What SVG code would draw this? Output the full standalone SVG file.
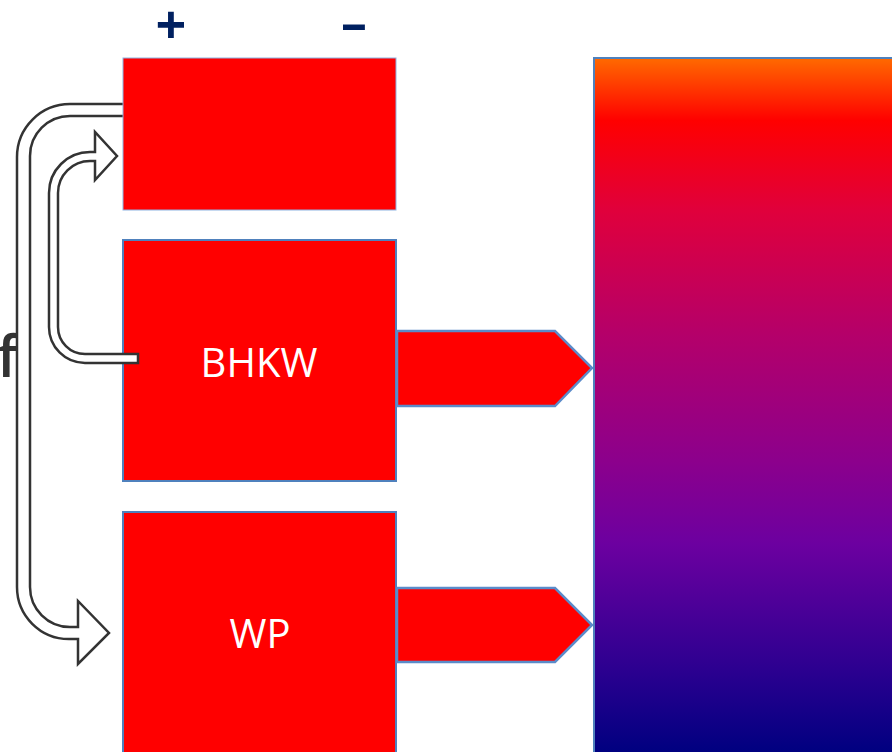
<svg xmlns="http://www.w3.org/2000/svg" width="892" height="752" viewBox="0 0 892 752">
<style>
.box{fill:#ff0000;stroke:#4f81bd;stroke-width:2}
.pent{fill:#ff0000;stroke:#5b8bc9;stroke-width:2.5;stroke-linejoin:miter}
.lbl{font-family:"Open Sans","Noto Sans",sans-serif;font-size:40px;fill:#ffffff;text-anchor:middle}
.sign{font-family:"Open Sans","Noto Sans",sans-serif;font-weight:bold;fill:#002060;text-anchor:middle}
.blk{fill:#ffffff;stroke:#333333;stroke-width:2.5;stroke-linejoin:miter}
</style>
<defs>
<linearGradient id="grad" gradientUnits="userSpaceOnUse" x1="0" y1="58" x2="0" y2="752">
<stop offset="0" stop-color="#ff6a00"/>
<stop offset="0.09" stop-color="#ff0000"/>
<stop offset="0.22" stop-color="#e0003c"/>
<stop offset="0.4" stop-color="#b4006a"/>
<stop offset="0.58" stop-color="#8c008c"/>
<stop offset="0.7" stop-color="#6c00a0"/>
<stop offset="0.88" stop-color="#2c0090"/>
<stop offset="1" stop-color="#000080"/>
</linearGradient>
</defs>
<rect width="892" height="752" fill="#ffffff"/>
<text x="-3" y="377" font-family="Open Sans, Noto Sans, sans-serif" font-size="57" font-weight="600" fill="#333333">f</text>
<text class="sign" x="171" y="44" font-size="54">+</text>
<text class="sign" transform="translate(354,39) scale(1.9,1)" x="0" y="0" font-size="44">-</text>
<g id="connectors">
<path id="arrow-outer" class="blk" d="M123,104 L70,104 A53,53 0 0 0 17,157 L17,587 A52,52 0 0 0 69,639 L78,639 L78,664 L109,633 L78,601 L78,627 L70,627 A40,40 0 0 1 30,587 L30,156 A40,40 0 0 1 70,116 L123,116"/>
</g>
<g id="node-top">
<rect x="123" y="58" width="273" height="152" fill="#ff0000" stroke="#8db3e2" stroke-width="1"/>
</g>
<g id="node-bhkw">
<rect class="box" x="123" y="240" width="273" height="241"/>
<text class="lbl" x="259" y="377">BHKW</text>
</g>
<g id="node-wp">
<rect class="box" x="123" y="512" width="273" height="250"/>
<text class="lbl" x="260" y="648">WP</text>
</g>
<g id="connectors2">
<path id="arrow-inner" class="blk" d="M138,354 L85,354 A27,27 0 0 1 58,327 L58,193 A32,32 0 0 1 90,161 L95,161 L95,180 L117,156 L95,132 L95,152 L90,152 A41,41 0 0 0 49,193 L49,327 A36,36 0 0 0 85,363 L138,363 Z"/>
<polygon id="flow-bhkw" class="pent" points="397,331 555,331 592,368 555,406 397,406"/>
<polygon id="flow-wp" class="pent" points="397,588 555,588 592,625 555,662 397,662"/>
</g>
<g id="node-storage">
<rect x="594" y="58" width="310" height="710" fill="url(#grad)" stroke="#4f81bd" stroke-width="2"/>
</g>
</svg>
